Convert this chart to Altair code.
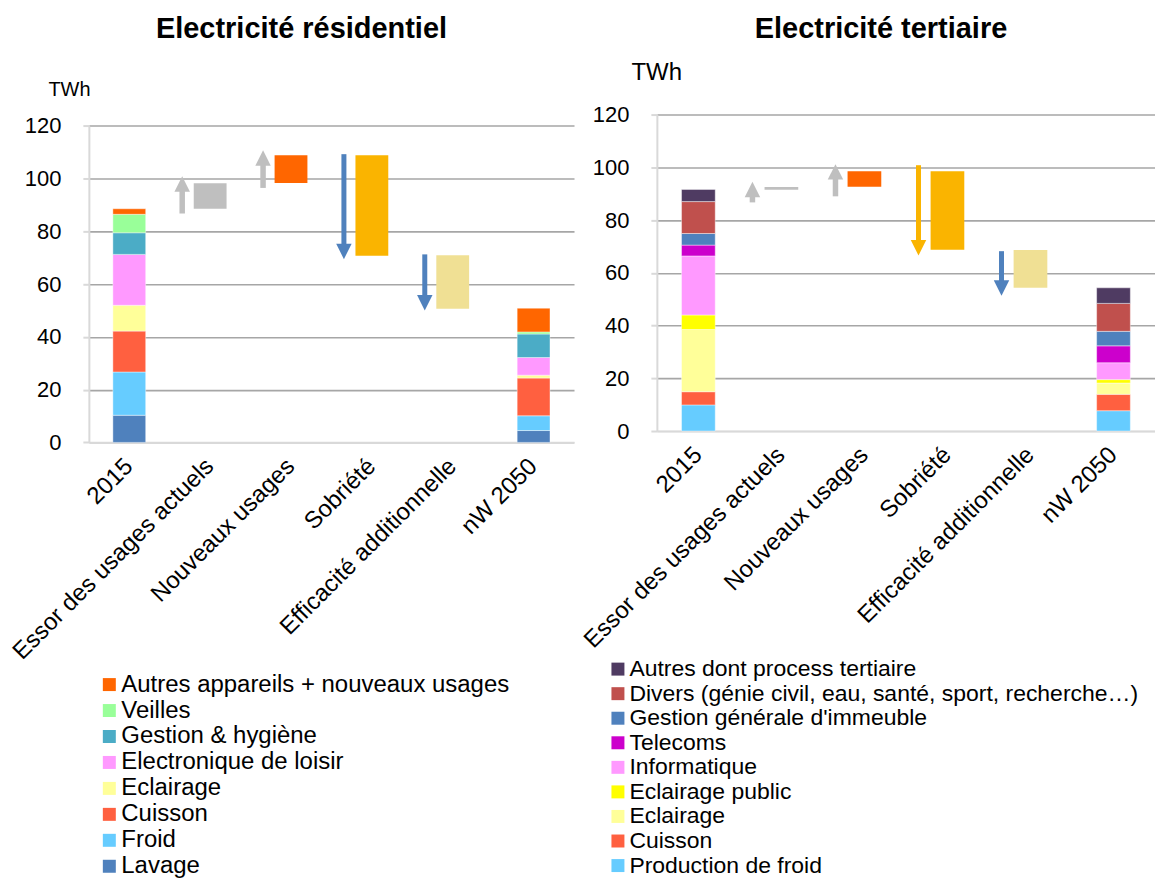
import altair as alt
import pandas as pd

FONT = "Liberation Sans"

CATEGORIES = ["2015", "Essor des usages actuels", "Nouveaux usages",
              "Sobriété", "Efficacité additionnelle", "nW 2050"]
STEP_CATEGORIES = CATEGORIES[1:5]
Y_TICKS = [0, 20, 40, 60, 80, 100, 120]

# ---- Electricité résidentiel (stack order: bottom -> top)
RES_USAGES = ["Lavage", "Froid", "Cuisson", "Eclairage", "Electronique de loisir",
              "Gestion & hygiène", "Veilles", "Autres appareils + nouveaux usages"]
RES_COLORS = ["#4F81BD", "#66CCFF", "#FF6040", "#FFFF99", "#FF99FF",
              "#4BACC6", "#99FF99", "#FF6600"]
RES_2015 = [10.3, 16.4, 15.5, 9.8, 19.3, 8.2, 7.0, 2.1]
RES_2050 = [4.5, 5.6, 14.3, 1.1, 6.7, 8.9, 0.8, 9.0]
RES_STEP_LOW = [88.6, 98.4, 70.8, 50.7]
RES_STEP_HIGH = [98.3, 108.9, 108.9, 71.0]
RES_STEP_COLORS = ["#BFBFBF", "#FF6600", "#FAB400", "#F0E094"]
RES_ARROW_START = [86.8, 96.5, 109.3, 71.3]
RES_ARROW_END = [100.9, 110.8, 69.5, 50.0]
RES_ARROW_COLORS = ["#BFBFBF", "#BFBFBF", "#4F81BD", "#4F81BD"]

# ---- Electricité tertiaire (stack order: bottom -> top)
TER_USAGES = ["Production de froid", "Cuisson", "Eclairage", "Eclairage public",
              "Informatique", "Telecoms", "Gestion générale d'immeuble",
              "Divers (génie civil, eau, santé, sport, recherche…)",
              "Autres dont process tertiaire"]
TER_COLORS = ["#66CCFF", "#FF6040", "#FFFF99", "#FFFF00", "#FF99FF",
              "#CC00CC", "#4F81BD", "#C0504D", "#4F3B62"]
TER_2015 = [9.9, 5.0, 23.6, 5.5, 22.4, 4.1, 4.4, 12.1, 4.6]
TER_2050 = [7.7, 6.2, 4.3, 1.3, 6.4, 6.4, 5.5, 10.6, 5.9]
TER_STEP_LOW = [91.5, 92.6, 68.7, 54.3]
TER_STEP_HIGH = [92.5, 98.5, 98.5, 68.6]
TER_STEP_COLORS = ["#BFBFBF", "#FF6600", "#FAB400", "#F0E094"]
TER_ARROW_START = [86.7, 89.0, 100.8, 68.2]
TER_ARROW_END = [94.5, 101.2, 66.6, 51.3]
TER_ARROW_COLORS = ["#BFBFBF", "#BFBFBF", "#FAB400", "#4F81BD"]


def panel(title, usages, colors, v2015, v2050, lo, hi, scol, a0, a1, acol,
          width, height, top_gap, title_dx, title_offset, ytitle_x, ytitle_y,
          ytitle_size, legend_x, legend_y, legend_row_pad, legend_font, arrow_dx):
    rows = []
    for cat, vals in (("2015", v2015), ("nW 2050", v2050)):
        for i, (u, v) in enumerate(zip(usages, vals)):
            rows.append({"cat": cat, "usage": u, "value": v, "idx": i})
    stack_df = pd.DataFrame(rows)
    step_df = pd.DataFrame({"cat": STEP_CATEGORIES, "lo": lo, "hi": hi, "color": scol})
    arrow_df = pd.DataFrame({"cat": STEP_CATEGORIES, "start": a0, "end": a1, "color": acol})
    up_df = arrow_df[arrow_df["end"] > arrow_df["start"]]
    down_df = arrow_df[arrow_df["end"] < arrow_df["start"]]

    total_h = height + top_gap
    xscale = alt.Scale(domain=CATEGORIES, paddingInner=0.594, paddingOuter=0.297)
    yscale = alt.Scale(domain=[0, 120], nice=False, range=[total_h, top_gap])

    x_axis = alt.Axis(labelAngle=-45, labelAlign="right", labelBaseline="middle",
                      labelFontSize=24, labelFont=FONT, labelColor="#000000",
                      labelPadding=20, labelLimit=500, ticks=False,
                      domainColor="#D9D9D9", domainWidth=2, labelOverlap=False)
    y_axis = alt.Axis(values=Y_TICKS, labelFontSize=22, labelFont=FONT,
                      labelColor="#000000", labelPadding=22,
                      tickSize=6, tickColor="#D9D9D9", tickWidth=2,
                      domainColor="#D9D9D9", domainWidth=2,
                      gridColor={"condition": {"test": "datum.value === 0", "value": "#D9D9D9"},
                                 "value": "#A6A6A6"},
                      gridWidth=1.6,
                      titleAngle=0, titleAlign="left", titleBaseline="middle",
                      titleX=ytitle_x, titleY=ytitle_y, titleFontSize=ytitle_size,
                      titleFontWeight="normal", titleFont=FONT, titleColor="#000000")

    legend_order = list(reversed(usages))
    legend_colors = list(reversed(colors))

    stack = alt.Chart(stack_df).mark_bar(stroke="white", strokeWidth=0.6, strokeOpacity=0.7).encode(
        x=alt.X("cat:N", scale=xscale, axis=x_axis, title=None),
        y=alt.Y("value:Q", stack="zero", scale=yscale, axis=y_axis, title="TWh"),
        color=alt.Color("usage:N",
                        scale=alt.Scale(domain=legend_order, range=legend_colors),
                        legend=alt.Legend(orient="none", legendX=legend_x, legendY=legend_y,
                                          title=None, labelFontSize=legend_font, labelFont=FONT,
                                          labelColor="#000000", labelLimit=800,
                                          symbolType="square", symbolSize=169,
                                          symbolStrokeWidth=0, labelOffset=0,
                                          rowPadding=legend_row_pad, padding=0)),
        order=alt.Order("idx:Q", sort="ascending"),
    )

    steps = alt.Chart(step_df).mark_bar().encode(
        x=alt.X("cat:N", scale=xscale, title=None),
        y=alt.Y("lo:Q", scale=yscale, title="TWh"),
        y2="hi:Q",
        fill=alt.Fill("color:N", scale=None),
    )

    up_shaft = alt.Chart(up_df).mark_rule(strokeWidth=5.5, xOffset=arrow_dx, y2Offset=11).encode(
        x=alt.X("cat:N", scale=xscale, title=None),
        y=alt.Y("start:Q", scale=yscale, title="TWh"),
        y2="end:Q",
        stroke=alt.Stroke("color:N", scale=None),
    )
    down_shaft = alt.Chart(down_df).mark_rule(strokeWidth=5, xOffset=arrow_dx, y2Offset=-11).encode(
        x=alt.X("cat:N", scale=xscale, title=None),
        y=alt.Y("start:Q", scale=yscale, title="TWh"),
        y2="end:Q",
        stroke=alt.Stroke("color:N", scale=None),
    )
    up_head = alt.Chart(up_df).mark_point(shape="M0,0L1,2L-1,2Z", filled=True, size=240,
                                          opacity=1, strokeWidth=0, xOffset=arrow_dx).encode(
        x=alt.X("cat:N", scale=xscale, title=None),
        y=alt.Y("end:Q", scale=yscale, title="TWh"),
        fill=alt.Fill("color:N", scale=None),
    )
    down_head = alt.Chart(down_df).mark_point(shape="M0,0L1,-2L-1,-2Z", filled=True, size=240,
                                              opacity=1, strokeWidth=0, xOffset=arrow_dx).encode(
        x=alt.X("cat:N", scale=xscale, title=None),
        y=alt.Y("end:Q", scale=yscale, title="TWh"),
        fill=alt.Fill("color:N", scale=None),
    )

    return alt.layer(stack, steps, up_shaft, down_shaft, up_head, down_head).properties(
        width=width, height=total_h,
        title=alt.TitleParams(title, fontSize=29, fontWeight="bold", font=FONT,
                              color="#000000", anchor="middle", frame="group",
                              dx=title_dx, offset=title_offset),
    )


left = panel("Electricité résidentiel", RES_USAGES, RES_COLORS, RES_2015, RES_2050,
             RES_STEP_LOW, RES_STEP_HIGH, RES_STEP_COLORS,
             RES_ARROW_START, RES_ARROW_END, RES_ARROW_COLORS,
             width=486, height=317, top_gap=11.4, title_dx=-30, title_offset=35.8,
             ytitle_x=-41, ytitle_y=-25, ytitle_size=20,
             legend_x=8.5, legend_y=559, legend_row_pad=2.0, legend_font=24,
             arrow_dx=-28)

right = panel("Electricité tertiaire", TER_USAGES, TER_COLORS, TER_2015, TER_2050,
              TER_STEP_LOW, TER_STEP_HIGH, TER_STEP_COLORS,
              TER_ARROW_START, TER_ARROW_END, TER_ARROW_COLORS,
              width=499, height=317, top_gap=0, title_dx=-25, title_offset=16.5,
              ytitle_x=-26, ytitle_y=-42, ytitle_size=24,
              legend_x=-50.5, legend_y=544, legend_row_pad=0.6, legend_font=23,
              arrow_dx=-29)

chart = alt.hconcat(left, right, spacing=5).resolve_scale(
    color="independent"
).resolve_legend(color="independent").configure_view(stroke=None).properties(
    padding={"left": 0, "top": 6, "right": 0, "bottom": 2},
    background="white",
)

chart.save("out.html", embed_options={"renderer": "svg", "actions": False})
